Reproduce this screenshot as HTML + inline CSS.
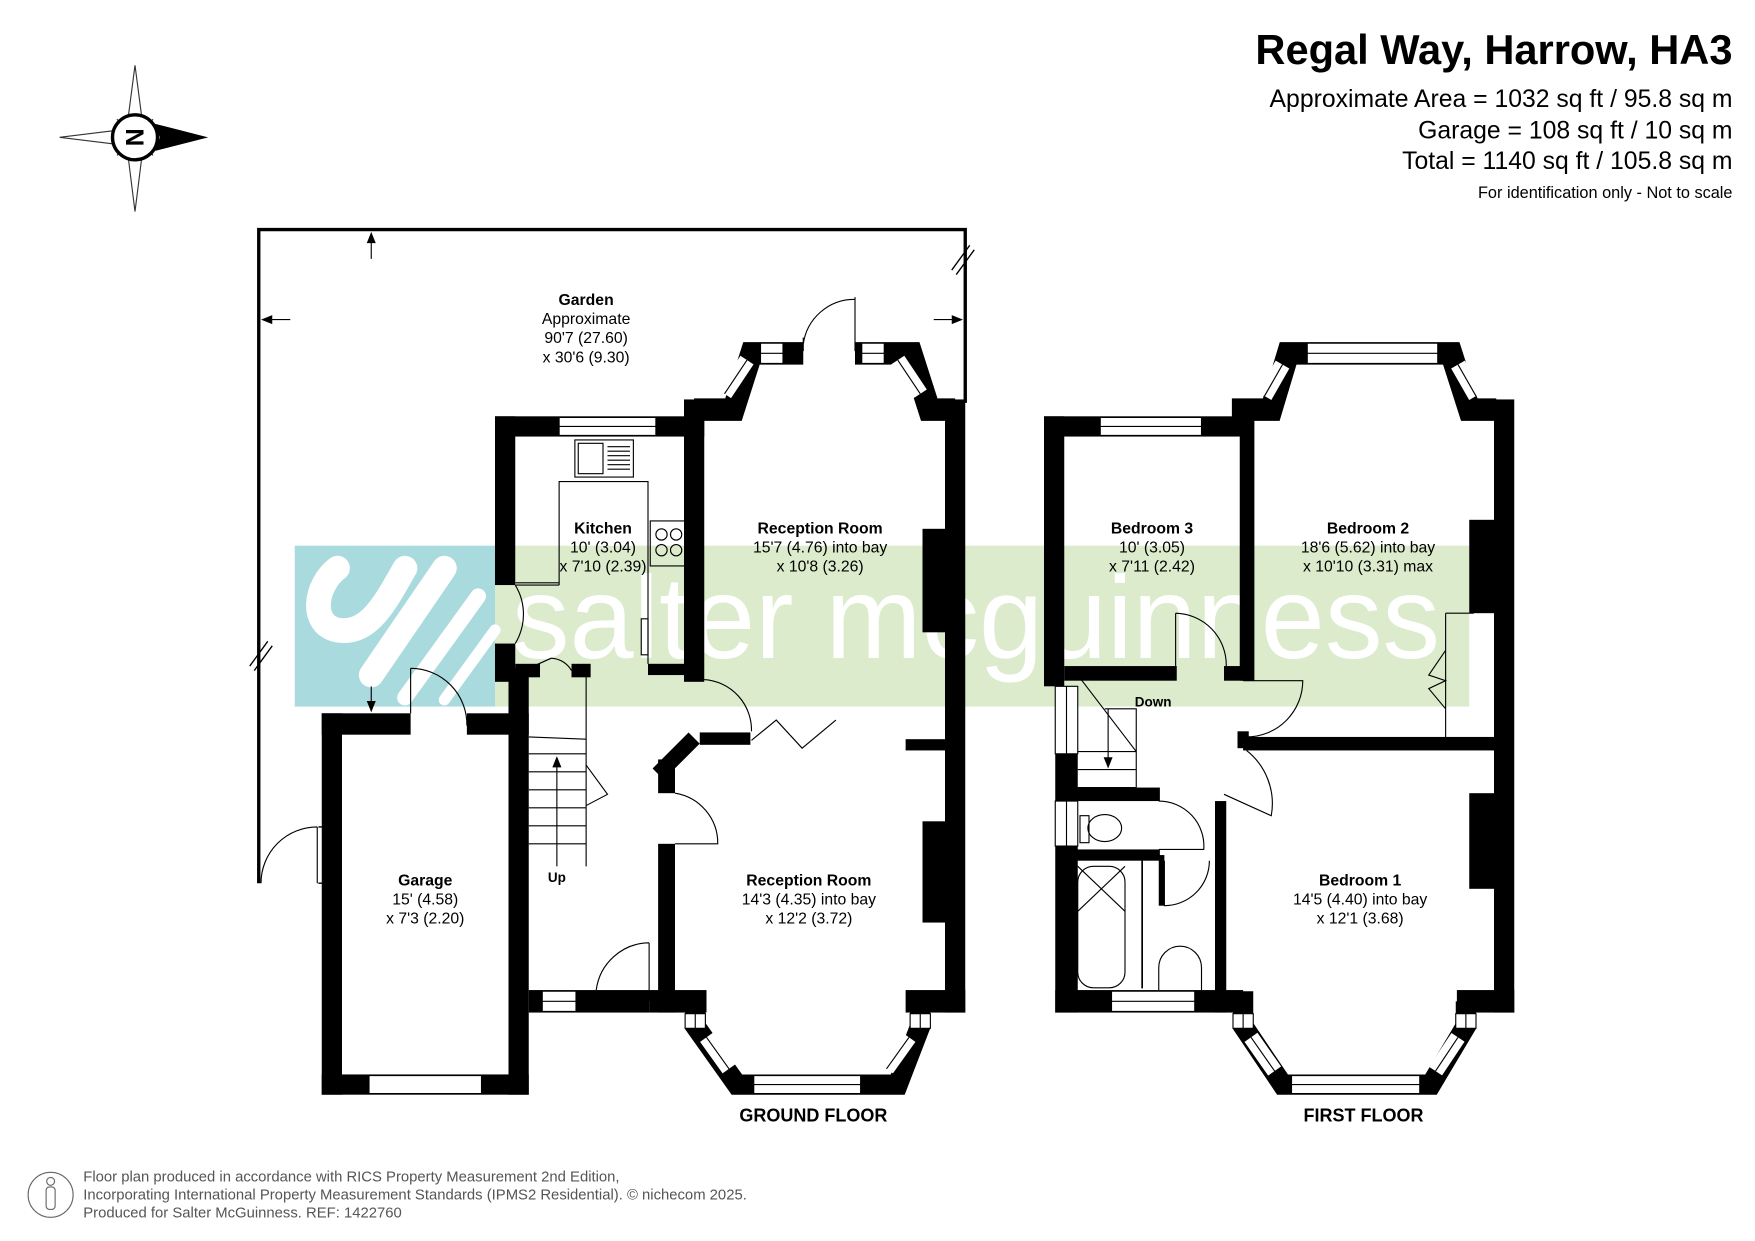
<!DOCTYPE html>
<html><head><meta charset="utf-8"><style>
html,body{margin:0;padding:0;background:#fff}
svg{display:block}
text{font-family:"Liberation Sans",Arial,sans-serif}
</style></head><body>
<svg width="1755" height="1241" viewBox="0 0 1560 1103" xmlns="http://www.w3.org/2000/svg">
<rect width="1560" height="1103" fill="#fff"/>

<!-- watermark -->
<rect x="440" y="485" width="866" height="143" fill="#dcebcc"/>
<rect x="262" y="485" width="178" height="143" fill="#a9dadd"/>
<g fill="none" stroke="#fff" stroke-linecap="round">
<path d="M300,505 C280,520 275,555 300,560 C330,565 345,530 360,505" stroke-width="22"/>
<path d="M330,600 L395,505" stroke-width="22"/>
<path d="M360,620 L425,530" stroke-width="14"/>
<path d="M395,622 L440,560" stroke-width="10"/>
</g>
<text x="455" y="585" font-size="104" fill="#fff" textLength="825" lengthAdjust="spacingAndGlyphs">salter mcguinness</text>

<!-- compass -->
<g transform="translate(120,122)">
<polygon points="0,-64 6,-18 0,-20 -6,-18" fill="#fff" stroke="#333" stroke-width="1"/>
<polygon points="0,66 6,18 0,20 -6,18" fill="#fff" stroke="#333" stroke-width="1"/>
<polygon points="-67,0 -18,-6 -20,0 -18,6" fill="#fff" stroke="#333" stroke-width="1"/>
<polygon points="65,0 18,-12 22,0 18,12" fill="#000"/>
<polygon points="-16,-16 -4,-6 -6,-4" fill="#fff" stroke="#333" stroke-width="1"/>
<polygon points="16,-16 4,-6 6,-4" fill="#fff" stroke="#333" stroke-width="1"/>
<polygon points="-16,16 -4,6 -6,4" fill="#fff" stroke="#333" stroke-width="1"/>
<polygon points="16,16 4,6 6,4" fill="#fff" stroke="#333" stroke-width="1"/>
<circle r="20" fill="#fff" stroke="#000" stroke-width="3"/>
<text x="0" y="8" font-size="22" font-weight="bold" text-anchor="middle" transform="rotate(90)">N</text>
</g>

<!-- header -->
<text x="1540" y="57" font-size="37" font-weight="bold" text-anchor="end">Regal Way, Harrow, HA3</text>
<text x="1540" y="95" font-size="22" text-anchor="end">Approximate Area = 1032 sq ft / 95.8 sq m</text>
<text x="1540" y="123" font-size="22" text-anchor="end">Garage = 108 sq ft / 10 sq m</text>
<text x="1540" y="150" font-size="22" text-anchor="end">Total = 1140 sq ft / 105.8 sq m</text>
<text x="1540" y="176" font-size="14.5" text-anchor="end">For identification only - Not to scale</text>

<!-- garden -->
<g stroke="#000" fill="none">
<path d="M230,785 L230,204 L858,204 L858,358" stroke-width="3"/>
<path d="M222,592 L238,570 M226,596 L242,574" stroke-width="1.2"/>
<path d="M850,244 L866,222 M846,240 L862,218" stroke-width="1.2"/>
<path d="M330,208 L330,230 M234,284 L258,284 M830,284 L854,284 M330,610 L330,632" stroke-width="1"/>
<path d="M282,735 L282,785 M282,735 A50,50 0 0 0 232,785" stroke-width="1"/>
<path d="M283,735 L287,735 L287,785 L283,785" stroke-width="1.2"/>
</g>
<g fill="#000">
<polygon points="330,206 326,216 334,216"/>
<polygon points="232,284 242,280 242,288"/>
<polygon points="856,284 846,280 846,288"/>
<polygon points="330,633 326,623 334,623"/>
</g>
<text x="521" y="271" font-size="14" font-weight="bold" text-anchor="middle">Garden</text>
<text x="521" y="288" font-size="14" text-anchor="middle">Approximate</text>
<text x="521" y="305" font-size="14" text-anchor="middle">90'7 (27.60)</text>
<text x="521" y="322" font-size="14" text-anchor="middle">x 30'6 (9.30)</text>

<!-- ============ GROUND FLOOR ============ -->
<g fill="#000">
<rect x="286" y="634" width="18" height="339"/>
<rect x="286" y="955" width="184" height="18"/>
<rect x="286" y="634" width="79" height="19"/>
<rect x="415" y="634" width="55" height="19"/>
<rect x="452" y="594" width="18" height="379"/>
<rect x="440" y="572" width="18" height="34"/>
<rect x="440" y="370" width="18" height="150"/>
<rect x="440" y="370" width="186" height="18"/>
<rect x="608" y="355" width="18" height="251"/>
<rect x="576" y="590" width="45" height="10"/>
<rect x="458" y="590" width="22" height="12"/>
<rect x="508" y="590" width="17" height="12"/>
<rect x="840" y="355" width="18" height="545"/>
<rect x="820" y="470" width="22" height="92"/>
<rect x="820" y="730" width="22" height="90"/>
<rect x="805" y="657" width="37" height="10"/>
<rect x="622" y="651" width="45" height="11"/>
<rect x="585" y="750" width="15" height="150"/>
<rect x="585" y="675" width="15" height="30"/>
<rect x="470" y="880" width="107" height="20"/>
<rect x="577" y="880" width="51" height="20"/>
<rect x="805" y="880" width="53" height="20"/>
</g>
<g fill="none" stroke="#000">
<path d="M617,656 L585,688" stroke-width="14"/>
<path d="M617,364 L652,364 L668,314 L714,314" stroke-width="20"/>
<path d="M760,314 L810,314 L826,364 L849,364" stroke-width="20"/>
<path d="M610,890 L618,890 L618,912 L655,964 L798,964 L818,912 L818,890" stroke-width="18"/>
</g>
<g fill="#fff" stroke="#000" stroke-width="1">
<rect x="497" y="371" width="86" height="16"/><line x1="497" y1="379" x2="583" y2="379"/>
<rect x="676" y="305" width="20" height="18"/><line x1="676" y1="314" x2="696" y2="314"/>
<rect x="766" y="305" width="20" height="18"/><line x1="766" y1="314" x2="786" y2="314"/>
<rect x="482" y="881" width="30" height="18"/><line x1="482" y1="890" x2="512" y2="890"/>
<rect x="328" y="956" width="100" height="16"/>
<line x1="304" y1="964" x2="328" y2="964"/><line x1="428" y1="964" x2="452" y2="964"/>
<rect x="670" y="956" width="95" height="16"/><line x1="670" y1="964" x2="765" y2="964"/>
<rect x="609" y="901" width="18" height="13"/><line x1="618" y1="901" x2="618" y2="914"/>
<rect x="809" y="901" width="18" height="13"/><line x1="818" y1="901" x2="818" y2="914"/>
</g>
<g stroke-linecap="butt">
<line x1="644" y1="350" x2="664" y2="320" stroke="#fff" stroke-width="14"/>
<line x1="644" y1="350" x2="664" y2="320" stroke="#000" stroke-width="1"/>
<line x1="818" y1="350" x2="798" y2="320" stroke="#fff" stroke-width="14"/>
<line x1="818" y1="350" x2="798" y2="320" stroke="#000" stroke-width="1"/>
<line x1="628" y1="922" x2="648" y2="950" stroke="#fff" stroke-width="14"/>
<line x1="628" y1="922" x2="648" y2="950" stroke="#000" stroke-width="1"/>
<line x1="808" y1="922" x2="788" y2="950" stroke="#fff" stroke-width="14"/>
<line x1="808" y1="922" x2="788" y2="950" stroke="#000" stroke-width="1"/>
</g>
<g fill="none" stroke="#000" stroke-width="1">
<rect x="511" y="391" width="52" height="33"/>
<rect x="514" y="394" width="22" height="27"/>
<path d="M540,397 h20 M540,401 h20 M540,405 h20 M540,409 h20 M540,413 h20 M540,417 h20"/>
<path d="M497,520 L497,428 L576,428 L576,590 M458,518 L497,518 M458,520 L497,520"/>
<rect x="578" y="463" width="34" height="40"/>
<circle cx="588" cy="475" r="5"/><circle cx="601" cy="475" r="5"/>
<circle cx="588" cy="489" r="5"/><circle cx="601" cy="489" r="5"/>
<rect x="570" y="550" width="6" height="32"/>
<path d="M458,520 A50,50 0 0 1 458,572"/>
<path d="M470,594 L490,585 M490,585 A22,22 0 0 1 508,596"/>
<path d="M521,600 L521,770 M470,655 L521,657"/>
<path d="M470,670 h51 M470,686 h51 M470,702 h51 M470,718 h51 M470,734 h51 M470,750 h51"/>
<path d="M495,770 L495,676"/>
<path d="M521,680 L540,706 L521,716"/>
<path d="M626,604 A45,45 0 0 1 668,650"/>
<path d="M668,658 L690,640 L713,665 L743,640"/>
<path d="M600,705 A45,45 0 0 1 638,750 L600,750"/>
<path d="M577,838 L577,890 M577,838 A48,48 0 0 0 530,880"/>
<path d="M365,594 L365,634 M365,594 A50,50 0 0 1 415,645"/>
<path d="M714,300 L714,312 M760,264 L760,312 M760,266 A46,46 0 0 0 714,306"/>
</g>
<polygon points="495,672 491,682 499,682" fill="#000"/>
<text x="536" y="474" font-size="14" font-weight="bold" text-anchor="middle">Kitchen</text>
<text x="536" y="491" font-size="14" text-anchor="middle">10' (3.04)</text>
<text x="536" y="508" font-size="14" text-anchor="middle">x 7'10 (2.39)</text>
<text x="729" y="474" font-size="14" font-weight="bold" text-anchor="middle">Reception Room</text>
<text x="729" y="491" font-size="14" text-anchor="middle">15'7 (4.76) into bay</text>
<text x="729" y="508" font-size="14" text-anchor="middle">x 10'8 (3.26)</text>
<text x="719" y="787" font-size="14" font-weight="bold" text-anchor="middle">Reception Room</text>
<text x="719" y="804" font-size="14" text-anchor="middle">14'3 (4.35) into bay</text>
<text x="719" y="821" font-size="14" text-anchor="middle">x 12'2 (3.72)</text>
<text x="378" y="787" font-size="14" font-weight="bold" text-anchor="middle">Garage</text>
<text x="378" y="804" font-size="14" text-anchor="middle">15' (4.58)</text>
<text x="378" y="821" font-size="14" text-anchor="middle">x 7'3 (2.20)</text>
<text x="495" y="784" font-size="12" font-weight="bold" text-anchor="middle">Up</text>
<text x="723" y="997" font-size="16" font-weight="bold" text-anchor="middle">GROUND FLOOR</text>

<!-- ============ FIRST FLOOR ============ -->
<g fill="#000">
<rect x="928" y="370" width="18" height="240"/>
<rect x="928" y="370" width="185" height="18"/>
<rect x="1102" y="355" width="13" height="250"/>
<rect x="1328" y="355" width="18" height="545"/>
<rect x="1306" y="462" width="24" height="83"/>
<rect x="1306" y="705" width="24" height="85"/>
<rect x="946" y="592" width="100" height="13"/>
<rect x="1088" y="592" width="17" height="13"/>
<rect x="1105" y="655" width="225" height="12"/>
<rect x="938" y="610" width="20" height="290"/>
<rect x="946" y="700" width="85" height="12"/>
<rect x="946" y="755" width="85" height="10"/>
<rect x="1030" y="760" width="5" height="45"/>
<rect x="1080" y="712" width="10" height="188"/>
<rect x="1100" y="650" width="10" height="15"/>
<rect x="938" y="880" width="167" height="20"/>
<rect x="1295" y="880" width="51" height="20"/>
</g>
<g fill="none" stroke="#000">
<path d="M1095,364 L1130,364 L1145,314 L1290,314 L1306,364 L1330,364" stroke-width="20"/>
<path d="M1092,890 L1105,890 L1105,912 L1140,964 L1272,964 L1303,912 L1303,890" stroke-width="18"/>
</g>
<g fill="#fff" stroke="#000" stroke-width="1">
<rect x="978" y="371" width="90" height="16"/><line x1="978" y1="379" x2="1068" y2="379"/>
<rect x="1162" y="305" width="116" height="18"/><line x1="1162" y1="314" x2="1278" y2="314"/>
<rect x="988" y="881" width="74" height="18"/><line x1="988" y1="890" x2="1062" y2="890"/>
<rect x="1148" y="956" width="114" height="16"/><line x1="1148" y1="964" x2="1262" y2="964"/>
<rect x="1096" y="901" width="18" height="13"/><line x1="1105" y1="901" x2="1105" y2="914"/>
<rect x="1294" y="901" width="18" height="13"/><line x1="1303" y1="901" x2="1303" y2="914"/>
<rect x="938" y="610" width="20" height="60"/><line x1="948" y1="610" x2="948" y2="670"/>
<rect x="938" y="712" width="20" height="40"/><line x1="948" y1="712" x2="948" y2="752"/>
</g>
<g>
<line x1="1124" y1="352" x2="1140" y2="324" stroke="#fff" stroke-width="14"/>
<line x1="1124" y1="352" x2="1140" y2="324" stroke="#000" stroke-width="1"/>
<line x1="1312" y1="352" x2="1296" y2="324" stroke="#fff" stroke-width="14"/>
<line x1="1312" y1="352" x2="1296" y2="324" stroke="#000" stroke-width="1"/>
<line x1="1112" y1="922" x2="1133" y2="952" stroke="#fff" stroke-width="14"/>
<line x1="1112" y1="922" x2="1133" y2="952" stroke="#000" stroke-width="1"/>
<line x1="1296" y1="922" x2="1276" y2="952" stroke="#fff" stroke-width="14"/>
<line x1="1296" y1="922" x2="1276" y2="952" stroke="#000" stroke-width="1"/>
</g>
<g fill="none" stroke="#000" stroke-width="1">
<path d="M958,600 L1010,668 M982,630 L1010,630 L1010,700 M958,668 h52 M958,684 h52 M958,700 h52"/>
<path d="M985,630 L985,680"/>
<path d="M1045,545 L1045,600 M1045,545 A46,46 0 0 1 1090,592"/>
<path d="M1105,605 L1158,605 A50,50 0 0 1 1108,655"/>
<path d="M1108,667 A60,60 0 0 1 1130,725 L1088,706"/>
<path d="M1030,712 A40,40 0 0 1 1070,755 L1030,755 M1035,765 L1035,805 A40,40 0 0 0 1075,765"/>
<path d="M1285,545 L1285,655 M1285,545 L1310,545 M1285,578 L1270,600 L1285,605 L1270,612 L1285,630"/>
<ellipse cx="982" cy="736" rx="15" ry="12"/><rect x="960" y="725" width="8" height="24"/>
<rect x="958" y="770" width="42" height="108" rx="14"/>
<path d="M958,770 L1000,810 M1000,770 L958,810"/>
<path d="M1030,880 L1030,860 A19,19 0 0 1 1068,860 L1068,880"/>
<rect x="1015" y="765" width="0.5" height="113"/>
</g>
<polygon points="985,683 981,673 989,673" fill="#000"/>
<text x="1024" y="474" font-size="14" font-weight="bold" text-anchor="middle">Bedroom 3</text>
<text x="1024" y="491" font-size="14" text-anchor="middle">10' (3.05)</text>
<text x="1024" y="508" font-size="14" text-anchor="middle">x 7'11 (2.42)</text>
<text x="1216" y="474" font-size="14" font-weight="bold" text-anchor="middle">Bedroom 2</text>
<text x="1216" y="491" font-size="14" text-anchor="middle">18'6 (5.62) into bay</text>
<text x="1216" y="508" font-size="14" text-anchor="middle">x 10'10 (3.31) max</text>
<text x="1209" y="787" font-size="14" font-weight="bold" text-anchor="middle">Bedroom 1</text>
<text x="1209" y="804" font-size="14" text-anchor="middle">14'5 (4.40) into bay</text>
<text x="1209" y="821" font-size="14" text-anchor="middle">x 12'1 (3.68)</text>
<text x="1025" y="628" font-size="12" font-weight="bold" text-anchor="middle">Down</text>
<text x="1212" y="997" font-size="16" font-weight="bold" text-anchor="middle">FIRST FLOOR</text>

<!-- footer -->
<circle cx="45" cy="1062" r="20" fill="none" stroke="#666" stroke-width="1"/>
<circle cx="45" cy="1050" r="3.5" fill="none" stroke="#666" stroke-width="1"/>
<rect x="41" y="1055" width="8" height="20" rx="3" fill="none" stroke="#666" stroke-width="1"/>
<g font-size="13.2" fill="#555">
<text x="74" y="1050">Floor plan produced in accordance with RICS Property Measurement 2nd Edition,</text>
<text x="74" y="1066">Incorporating International Property Measurement Standards (IPMS2 Residential).   © nichecom 2025.</text>
<text x="74" y="1082">Produced for Salter McGuinness.   REF: 1422760</text>
</g>
</svg>
</body></html>
